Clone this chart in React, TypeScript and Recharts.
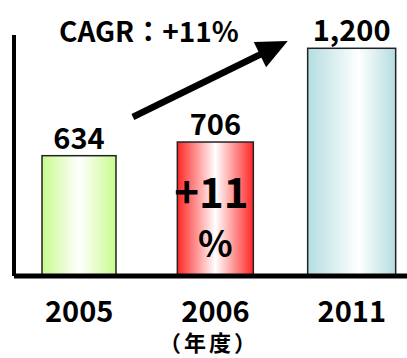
import { BarChart, Bar, XAxis, YAxis, LabelList, ReferenceLine } from 'recharts';

const years = ['2005', '2006', '2011'];
const sales = [634, 706, 1200];
const notes = ['', '+11', ''];
const cagrText = 'CAGR：+11%';
const unitLabel = '（年度）';
// arrow runs from the 2005 slot to the 2011 slot (in value units)
const arrowFrom = 699;
const arrowTo = 1404;

const data = years.map((year, i) => ({ year, sales: sales[i], note: notes[i] }));

const BAR_WIDTHS = [74, 76, 88];
const BAR_COLORS = ['#c8fb8c', '#ff2626', '#b4dde1'];
const FONT = '"Noto Sans CJK JP", "Noto Sans", sans-serif';

function GradientBar(props: any) {
  const { x, y, width, height, index } = props;
  const w = BAR_WIDTHS[index] ?? width;
  const cx = x + width / 2;
  return (
    <rect
      x={cx - w / 2}
      y={y}
      width={w}
      height={height}
      fill={`url(#barGrad${index})`}
      stroke="#222"
      strokeWidth={1.5}
    />
  );
}

function YearTick(props: any) {
  const { x, y, payload } = props;
  return (
    <text x={x} y={y + 38} textAnchor="middle" fontSize={29} fontWeight="bold" fill="#000">
      {payload.value}
    </text>
  );
}

function UnitLabel(props: any) {
  const { viewBox } = props;
  if (!viewBox) return null;
  return (
    <text
      x={viewBox.x + viewBox.width / 2 - 8}
      y={viewBox.y + viewBox.height - 7}
      textAnchor="middle"
      fontSize={22}
      fontWeight="bold"
      letterSpacing={3}
      fill="#000"
    >
      {unitLabel}
    </text>
  );
}

function InnerNote(props: any) {
  const { x, y, width, height, value } = props;
  if (!value) return null;
  const cx = x + width / 2;
  const bottom = y + height;
  return (
    <g fontWeight="bold" fill="#000" textAnchor="middle">
      <text x={cx - 4} y={bottom - 68} fontSize={42}>{value}</text>
      <text x={cx} y={bottom - 19} fontSize={36}>%</text>
    </g>
  );
}

function Arrow(props: any) {
  const { x1, y1, x2, y2 } = props;
  const t0 = 0.197;
  const t1 = 0.765;
  const sx = x1 + (x2 - x1) * t0;
  const sy = y1 + (y2 - y1) * t0;
  const ex = x1 + (x2 - x1) * t1;
  const ey = y1 + (y2 - y1) * t1;
  const len = Math.hypot(ex - sx, ey - sy);
  const ux = (ex - sx) / len;
  const uy = (ey - sy) / len;
  const headLen = 31;
  const halfW = 14;
  const bx = ex - ux * headLen;
  const by = ey - uy * headLen;
  const head = `${ex},${ey} ${bx - uy * halfW},${by + ux * halfW} ${bx + uy * halfW},${by - ux * halfW}`;
  return (
    <g>
      <line x1={sx} y1={sy} x2={bx + ux * 2} y2={by + uy * 2} stroke="#000" strokeWidth={6.5} />
      <polygon points={head} fill="#000" />
      <text x={ex - 49} y={ey + 1} textAnchor="end" fontSize={28} fontWeight="bold" fill="#000">
        {cagrText}
      </text>
    </g>
  );
}

export default function App() {
  return (
    <div
      style={{
        position: 'fixed',
        left: 0,
        top: 0,
        width: 407,
        height: 358,
        overflow: 'hidden',
        background: '#fff',
        fontFamily: FONT,
      }}
    >
      <BarChart
        width={420}
        height={358}
        data={data}
        margin={{ top: 35, right: 0, bottom: 0, left: 0 }}
        barCategoryGap={0}
      >
        <defs>
          {BAR_COLORS.map((c, i) => (
            <linearGradient key={i} id={`barGrad${i}`} x1="0" y1="0" x2="1" y2="0">
              <stop offset="0%" stopColor={c} />
              <stop offset={i === 2 ? '58%' : '50%'} stopColor="#ffffff" />
              <stop offset="100%" stopColor={c} />
            </linearGradient>
          ))}
        </defs>
        <XAxis
          dataKey="year"
          height={82}
          padding={{ left: -3, right: 0 }}
          axisLine={{ stroke: '#000', strokeWidth: 5 }}
          tickLine={false}
          tick={<YearTick />}
          interval={0}
          label={(p: any) => <UnitLabel {...p} />}
        />
        <YAxis
          width={14}
          domain={[0, 1270]}
          axisLine={{ stroke: '#000', strokeWidth: 4 }}
          tickLine={false}
          tick={false}
        />
        <ReferenceLine
          segment={[
            { x: years[0], y: arrowFrom },
            { x: years[2], y: arrowTo },
          ]}
          ifOverflow="visible"
          shape={(p: any) => <Arrow {...p} />}
        />
        <Bar dataKey="sales" isAnimationActive={false} shape={(p: any) => <GradientBar {...p} />}>
          <LabelList
            dataKey="sales"
            position="top"
            offset={7}
            fontSize={29}
            fontWeight="bold"
            fill="#000"
            formatter={(v: any) => Number(v).toLocaleString('en-US')}
          />
          <LabelList dataKey="note" content={(p: any) => <InnerNote {...p} />} />
        </Bar>
      </BarChart>
    </div>
  );
}
